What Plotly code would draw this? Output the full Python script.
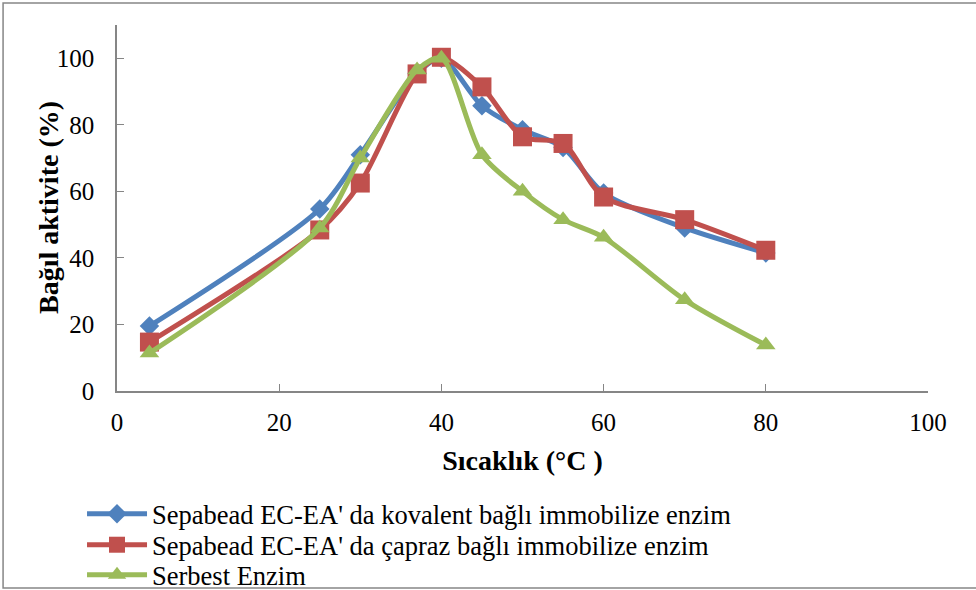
import plotly.graph_objects as go

temps = [4, 25, 30, 37, 40, 45, 50, 55, 60, 70, 80]
kovalent = [19.5, 54.7, 71, 95.5, 100, 85.7, 78.5, 73.2, 59.5, 49, 41.5]
capraz = [14.7, 48.4, 62.5, 95.3, 100.3, 91.4, 76.4, 74.4, 58.3, 51.5, 42.3]
serbest = [11.4, 49, 70, 96.5, 100, 71, 60, 51.5, 46.2, 27.4, 13.8]

names = ["Sepabead EC-EA' da kovalent bağlı immobilize enzim",
         "Sepabead EC-EA' da çapraz bağlı immobilize enzim",
         "Serbest Enzim"]
colors = ["#4F81BD", "#C0504D", "#9BBB59"]
symbols = ["diamond", "square", "triangle-up"]
sizes = [15, 19, 17]
series = [kovalent, capraz, serbest]
legend_ids = ["legend", "legend2", "legend3"]

FONT = "Liberation Serif, Times New Roman, serif"
W, H = 976, 590
L, R, T, B = 117, 47.5, 25, 199
pw, ph = W - L - R, H - T - B

fig = go.Figure()
for name, ys, c, s, sz, lg in zip(names, series, colors, symbols, sizes, legend_ids):
    fig.add_trace(go.Scatter(
        x=temps, y=ys, name=name, mode="lines+markers", legend=lg, showlegend=True,
        line=dict(color=c, width=5, shape="spline", smoothing=0.8),
        marker=dict(symbol=s, size=sz, color=c),
    ))

def px_x(p):
    return (p - L) / pw

def px_y(p):
    return (H - B - p) / ph

legend_centers = [514, 545, 575]
leg_common = dict(xanchor="left", yanchor="middle", font=dict(family=FONT, size=26.5),
                  itemwidth=60, bgcolor="rgba(0,0,0,0)", borderwidth=0)
legends = {}
for lg, cy in zip(legend_ids, legend_centers):
    legends[lg] = dict(x=px_x(82), y=px_y(cy), visible=True, **leg_common)

fig.update_layout(
    width=W, height=H,
    showlegend=True,
    margin=dict(l=L, r=R, t=T, b=B, autoexpand=False),
    plot_bgcolor="white", paper_bgcolor="white",
    font=dict(family=FONT, color="black", size=25),
    xaxis=dict(range=[0, 100], dtick=20, showgrid=False, zeroline=False,
               showline=True, linecolor="#868686", linewidth=1.5,
               ticks="inside", ticklen=7, tickcolor="#868686",
               tickfont=dict(family=FONT, size=25), ticklabelstandoff=8,
               title=dict(text="<b>Sıcaklık (°C )</b>", font=dict(family=FONT, size=28), standoff=16)),
    yaxis=dict(range=[0, 110], tickvals=[0, 20, 40, 60, 80, 100], showgrid=False, zeroline=False,
               showline=True, linecolor="#868686", linewidth=1.5,
               ticks="inside", ticklen=7, tickcolor="#868686",
               tickfont=dict(family=FONT, size=25), ticklabelstandoff=16),
    annotations=[dict(text="<b>Bağıl aktivite (%)</b>", textangle=-90,
                      xref="paper", yref="paper", x=px_x(48), y=0.5,
                      xanchor="center", yanchor="middle", showarrow=False,
                      font=dict(family=FONT, size=28))],
    shapes=[dict(type="rect", xref="paper", yref="paper",
                 x0=px_x(3), x1=px_x(990), y0=px_y(588), y1=px_y(3),
                 line=dict(color="#868686", width=1.5), layer="below")],
    **legends,
)

fig.write_html("out.html")
